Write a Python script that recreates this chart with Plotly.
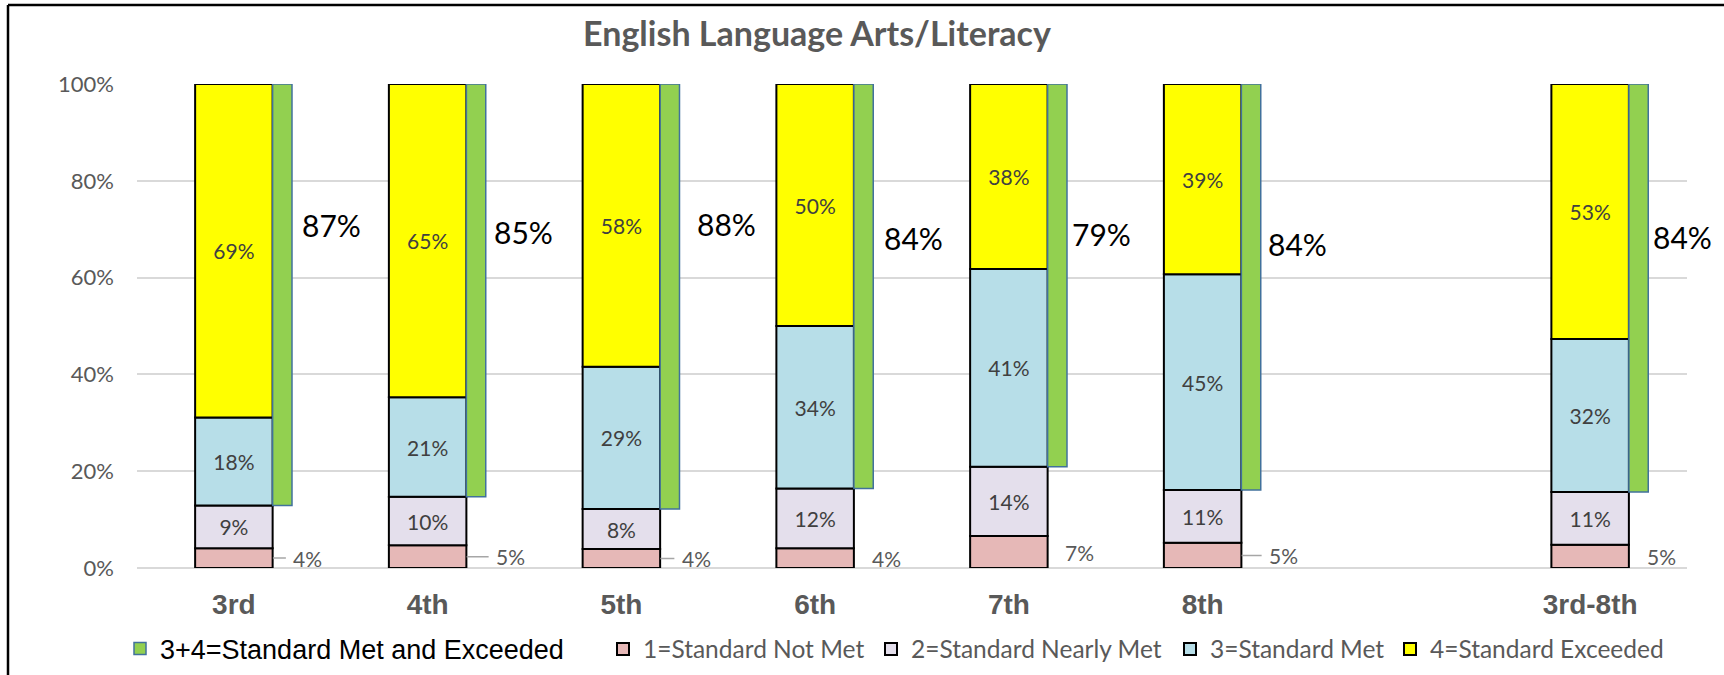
import plotly.graph_objects as go

# data (percent of students)
grades = ["3rd", "4th", "5th", "6th", "7th", "8th", "3rd-8th"]
axis_order = ["3rd", "4th", "5th", "6th", "7th", "8th", " ", "3rd-8th"]

not_met = [4.1, 4.7, 3.9, 4.1, 6.6, 5.2, 4.8]
nearly_met = [8.8, 10.0, 8.3, 12.3, 14.3, 10.9, 10.9]
met = [18.2, 20.6, 29.4, 33.6, 40.9, 44.6, 31.6]
exceeded = [68.9, 64.7, 58.4, 50.0, 38.2, 39.3, 52.7]

met_and_exceeded = [a + b for a, b in zip(met, exceeded)]

W, H = 1724, 675
L, R, T, B = 137, 37, 84, 107
PW, PH = W - L - R, H - T - B


def px_x(p):
    return (p - L) / PW


def px_y(p):
    return (H - B - p) / PH


GRAY = "#595959"
TXT = "#404040"

fig = go.Figure()

base = [0] * len(grades)
series = [
    ("1=Standard Not Met", not_met, "#E6B8B7", "legend2", False),
    ("2=Standard Nearly Met", nearly_met, "#E4DFEC", "legend3", True),
    ("3=Standard Met", met, "#B7DEE8", "legend4", True),
    ("4=Standard Exceeded", exceeded, "#FFFF00", "legend5", True),
]
for name, vals, color, leg, show_text in series:
    fig.add_trace(go.Bar(
        x=grades, y=vals, base=list(base), name=name,
        width=0.4, offset=-0.2,
        marker=dict(color=color, line=dict(color="black", width=2)),
        text=[f"{v:.0f}%" for v in vals] if show_text else None,
        textposition="inside", insidetextanchor="middle", textangle=0,
        textfont=dict(family="Lato", size=21, color=TXT),
        legend=leg, cliponaxis=False, hoverinfo="skip",
    ))
    base = [b + v for b, v in zip(base, vals)]

green_base = [a + b for a, b in zip(not_met, nearly_met)]
fig.add_trace(go.Bar(
    x=grades, y=met_and_exceeded, base=green_base,
    name="3+4=Standard Met and Exceeded",
    width=0.1, offset=0.2,
    marker=dict(color="#92D050", line=dict(color="#41719C", width=1.5)),
    legend="legend", cliponaxis=False, hoverinfo="skip",
))

# outside labels for level 1 (some with a short leader line)
leader = [True, True, True, False, False, True, False]
lab_dx = [35, 44, 36, 32, 32, 42, 32]
for g, v, ld, dx in zip(grades, not_met, leader, lab_dx):
    if ld:
        fig.add_annotation(x=g, y=v / 2, xref="x", yref="y", text=f"{v:.0f}%",
                           showarrow=True, arrowhead=0, arrowwidth=1.5,
                           arrowcolor="#A6A6A6", ax=dx, ay=0, xshift=39,
                           startstandoff=6,
                           font=dict(family="Lato", size=21, color=GRAY))
    else:
        fig.add_annotation(x=g, y=v / 2, xref="x", yref="y", text=f"{v:.0f}%",
                           showarrow=False, xshift=39 + dx,
                           font=dict(family="Lato", size=21, color=GRAY))

# 3+4 totals, placed beside the green bars
tot_y = [70.9, 69.4, 71.1, 68.2, 69.0, 67.0, 68.3]
tot_dx = [66, 64, 74, 67, 61, 63, 61]
for g, v, yy, dx in zip(grades, met_and_exceeded, tot_y, tot_dx):
    fig.add_annotation(x=g, y=yy, xref="x", yref="y", text=f"{v:.0f}%",
                       showarrow=False, xanchor="left", xshift=dx,
                       font=dict(family="Lato", size=30, color="black"))

# chart frame: only its top and left edges are inside the picture
frame = dict(color="black", width=2.5)
fig.add_shape(type="line", xref="paper", yref="paper",
              x0=px_x(8), x1=px_x(W + 20), y0=px_y(5), y1=px_y(5),
              line=frame, layer="above")
fig.add_shape(type="line", xref="paper", yref="paper",
              x0=px_x(8), x1=px_x(8), y0=px_y(H + 20), y1=px_y(5),
              line=frame, layer="above")

leg_y = px_y(649)
small_leg = dict(orientation="h", xanchor="left", yanchor="middle", y=leg_y,
                 bgcolor="rgba(0,0,0,0)", borderwidth=0,
                 font=dict(family="Lato", size=24.5, color=GRAY))

fig.update_layout(
    width=W, height=H,
    margin=dict(l=L, r=R, t=T, b=B, autoexpand=False),
    paper_bgcolor="white", plot_bgcolor="white",
    barmode="overlay",
    title=dict(text="English Language Arts/Literacy", xref="container",
               x=817 / W, xanchor="center", yref="container",
               y=1 - 34 / H, yanchor="middle",
               font=dict(family="Lato", size=34, color=GRAY, weight="bold")),
    xaxis=dict(type="category", categoryorder="array", categoryarray=axis_order,
               range=[-0.5, len(axis_order) - 0.5],
               showgrid=False, showline=False, zeroline=False, ticks="",
               ticklabelstandoff=17,
               tickfont=dict(family="Liberation Sans", size=28, color=GRAY,
                             weight="bold")),
    yaxis=dict(range=[0, 100], tickvals=[0, 20, 40, 60, 80, 100],
               ticktext=["0%", "20%", "40%", "60%", "80%", "100%"],
               showgrid=True, gridcolor="#D9D9D9", gridwidth=1.5,
               zeroline=True, zerolinecolor="#D9D9D9", zerolinewidth=1.5,
               showline=False, ticks="", ticklabelstandoff=22,
               tickfont=dict(family="Lato", size=22, color=GRAY)),
    legend=dict(orientation="h", xanchor="left", yanchor="middle",
                x=px_x(120), y=leg_y, bgcolor="rgba(0,0,0,0)", borderwidth=0,
                font=dict(family="Liberation Sans", size=27, color="black")),
    legend2=dict(small_leg, x=px_x(603)),
    legend3=dict(small_leg, x=px_x(871)),
    legend4=dict(small_leg, x=px_x(1170)),
    legend5=dict(small_leg, x=px_x(1390)),
    showlegend=True,
)

# drop the page margin and scrollbars so the figure fills the window exactly
page_js = ("document.body.style.margin='0';"
           "document.body.style.overflow='hidden';"
           "document.documentElement.style.overflow='hidden';"
           "var d=document.querySelector('.plotly-graph-div');"
           "d.style.position='fixed';d.style.left='0';d.style.top='0';")
fig.write_html("out.html", config={"displayModeBar": False}, post_script=page_js)
